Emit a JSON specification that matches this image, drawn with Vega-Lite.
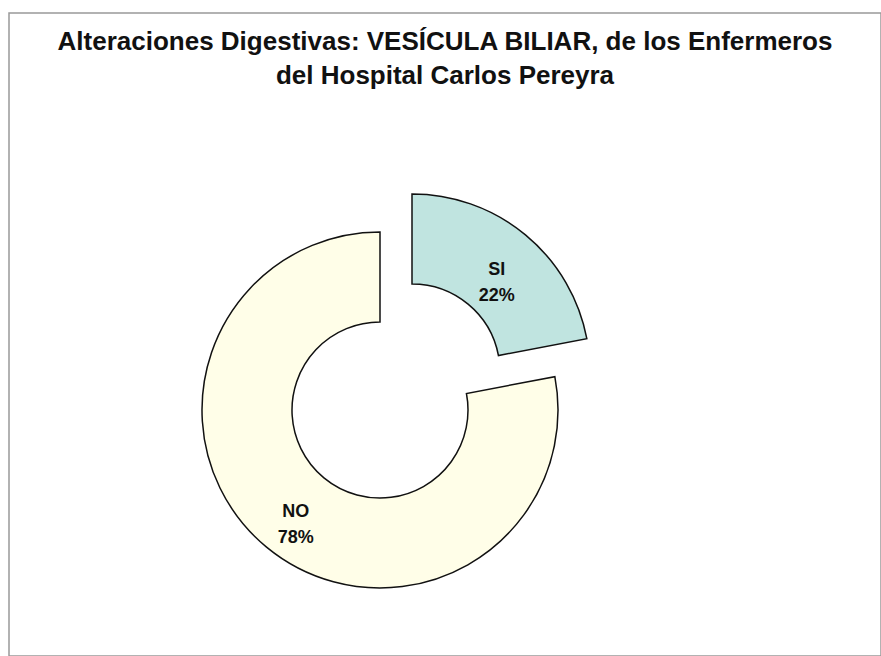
{
  "$schema": "https://vega.github.io/schema/vega-lite/v6.json",
  "width": 872,
  "height": 643,
  "autosize": "none",
  "padding": {"left": 9, "top": 13, "right": 0, "bottom": 0},
  "background": "white",
  "view": {"stroke": "#999999", "strokeWidth": 1.5, "fill": "white"},
  "title": {
    "text": ["Alteraciones Digestivas: VESÍCULA BILIAR, de los Enfermeros", "del  Hospital Carlos Pereyra"],
    "font": "Liberation Sans",
    "fontSize": 26,
    "fontWeight": "bold",
    "color": "#111111",
    "lineHeight": 34,
    "anchor": "middle",
    "frame": "group",
    "offset": -76
  },
  "data": {
    "values": [
      {"categoria": "SI", "porcentaje": 22},
      {"categoria": "NO", "porcentaje": 78}
    ]
  },
  "transform": [
    {"calculate": "[datum.categoria, datum.porcentaje + '%']", "as": "etiqueta"}
  ],
  "encoding": {
    "theta": {"field": "porcentaje", "type": "quantitative", "stack": true},
    "order": {"field": "categoria", "sort": "descending"},
    "color": {
      "field": "categoria",
      "type": "nominal",
      "scale": {"domain": ["SI", "NO"], "range": ["#c0e4e0", "#fffee8"]},
      "legend": null
    }
  },
  "layer": [
    {
      "mark": {"type": "arc", "x": 371, "y": 397, "innerRadius": 88, "outerRadius": 178, "stroke": "#111111", "strokeWidth": 1.5},
      "encoding": {
        "opacity": {"condition": {"test": "datum.categoria === 'SI'", "value": 0}, "value": 1}
      }
    },
    {
      "mark": {"type": "arc", "x": 371, "y": 397, "xOffset": 32, "yOffset": -38, "innerRadius": 88, "outerRadius": 178, "stroke": "#111111", "strokeWidth": 1.5},
      "encoding": {
        "opacity": {"condition": {"test": "datum.categoria === 'NO'", "value": 0}, "value": 1}
      }
    },
    {
      "mark": {"type": "text", "x": 371, "y": 397, "radius": 132, "font": "Liberation Sans", "fontSize": 18, "fontWeight": "bold", "lineHeight": 26, "baseline": "middle", "align": "center"},
      "encoding": {
        "text": {"field": "etiqueta"},
        "color": {"value": "#111111"},
        "opacity": {"condition": {"test": "datum.categoria === 'SI'", "value": 0}, "value": 1}
      }
    },
    {
      "mark": {"type": "text", "x": 371, "y": 397, "xOffset": 32, "yOffset": -38, "radius": 133, "font": "Liberation Sans", "fontSize": 18, "fontWeight": "bold", "lineHeight": 26, "baseline": "middle", "align": "center"},
      "encoding": {
        "text": {"field": "etiqueta"},
        "color": {"value": "#111111"},
        "opacity": {"condition": {"test": "datum.categoria === 'NO'", "value": 0}, "value": 1}
      }
    }
  ]
}
